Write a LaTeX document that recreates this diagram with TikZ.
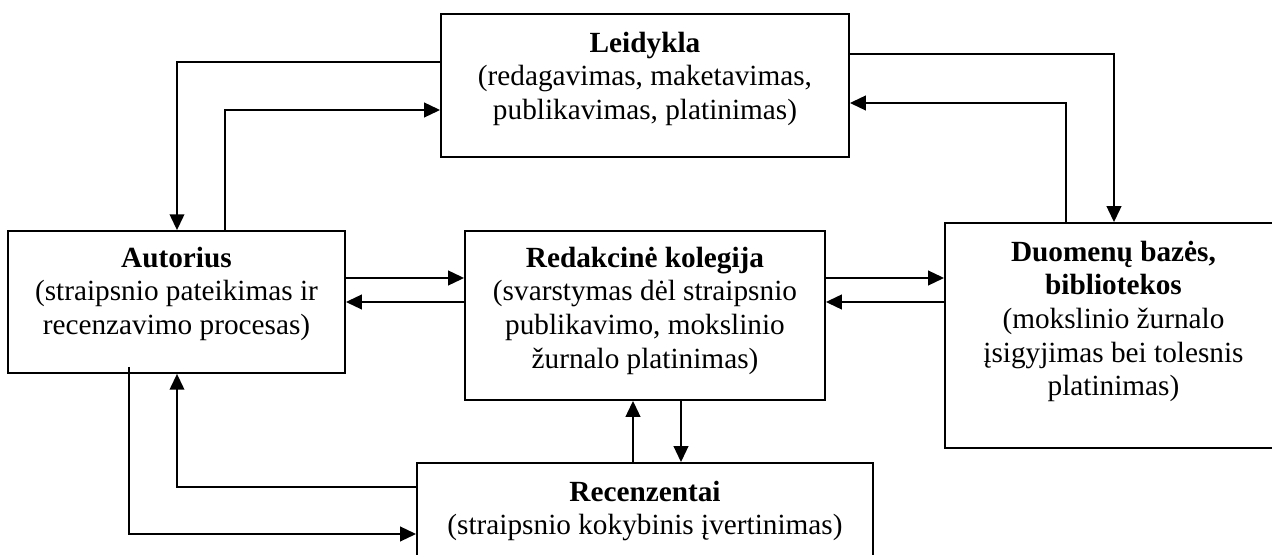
\documentclass[tikz,border=0pt]{standalone}
\usepackage{fontspec}
\setmainfont{Liberation Serif}
\usepackage{tikz}
\usetikzlibrary{arrows.meta}

\begin{document}
\begin{tikzpicture}[x=0.41pt, y=-0.41pt,
  box/.style={draw, line width=0.75pt, inner sep=0pt},
  txt/.style={anchor=north, align=center, inner sep=0pt, yshift=-7.5pt, font=\fontsize{12}{13.8}\selectfont},
  flow/.style={line width=0.75pt, -{Triangle[length=6.5pt,width=6pt]}}]
\useasboundingbox (0,0) rectangle (1272,555);
\node[box, minimum width=167.3pt, minimum height=58.6pt] (leid) at (645,85.5) {};
\node[box, minimum width=138.2pt, minimum height=58.2pt] (aut) at (176.5,302) {};
\node[box, minimum width=147.6pt, minimum height=69.3pt] (red) at (645,315.5) {};
\node[box, minimum width=138.2pt, minimum height=92.25pt] (duom) at (1113.5,335.5) {};
\node[box, minimum width=187pt, minimum height=39.8pt] (rec) at (645,511.5) {};
\node[txt] (leidtxt) at (leid.north) {\textbf{Leidykla}\\(redagavimas, maketavimas,\\publikavimas, platinimas)};
\node[txt, yshift=0.8pt] (auttxt) at (aut.north) {\textbf{Autorius}\\(straipsnio pateikimas ir\\recenzavimo procesas)};
\node[txt, yshift=0.8pt] (redtxt) at (red.north) {\textbf{Redakcinė kolegija}\\(svarstymas dėl straipsnio\\publikavimo, mokslinio\\žurnalo platinimas)};
\node[txt] (duomtxt) at (duom.north) {\textbf{Duomenų bazės,}\\\textbf{bibliotekos}\\(mokslinio žurnalo\\įsigyjimas bei tolesnis\\platinimas)};
\node[txt] (rectxt) at (rec.north) {\textbf{Recenzentai}\\(straipsnio kokybinis įvertinimas)};
\draw[flow] (leid.west |- 0,62) -| (aut.north -| 177,0);
\draw[flow] (aut.north -| 225,0) |- (leid.west |- 0,110);
\draw[flow] (leid.east |- 0,54) -| (duom.north -| 1114,0);
\draw[flow] (duom.north -| 1066,0) |- (leid.east |- 0,103);
\draw[flow] (aut.east |- 0,278) -- (red.west |- 0,278);
\draw[flow] (red.west |- 0,302) -- (aut.east |- 0,302);
\draw[flow] (red.east |- 0,278) -- (duom.west |- 0,278);
\draw[flow] (duom.west |- 0,302) -- (red.east |- 0,302);
\draw[flow] (rec.north -| 633,0) -- (red.south -| 633,0);
\draw[flow] (red.south -| 681,0) -- (rec.north -| 681,0);
\draw[flow] (rec.west |- 0,487) -| (aut.south -| 177,0);
\draw[flow] (129,367) |- (rec.west |- 0,534);
\end{tikzpicture}
\end{document}
